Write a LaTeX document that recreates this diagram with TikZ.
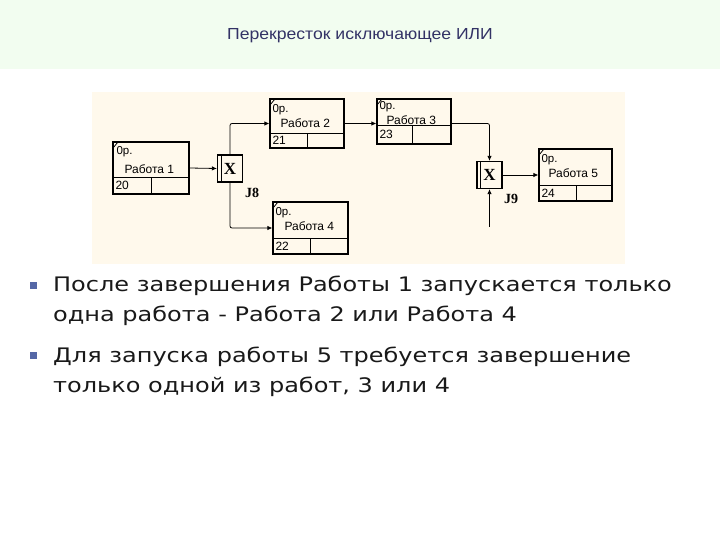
\documentclass[tikz,border=0pt]{standalone}
\usepackage{fontspec}
\setmainfont{Liberation Sans}
\newfontfamily\titlefont[FakeStretch=1.1]{Liberation Sans}
\newfontfamily\bodyfont[FakeStretch=1.2]{DejaVu Sans}
\newfontfamily\serifbold{Liberation Serif}
\usepackage{xcolor}
\definecolor{slide-band}{HTML}{F2FDF0}
\definecolor{slide-title}{HTML}{333366}
\definecolor{slide-bullet}{HTML}{5567A6}
\definecolor{diag-bg}{HTML}{FFF9EC}
\usetikzlibrary{arrows.meta}

\begin{document}
\begin{tikzpicture}[
  x=1pt, y=-1pt,
  every node/.style={inner sep=0pt},
  work/.style={rectangle, draw=black, line width=1.3pt,
    path picture={\draw[line width=0.8pt] ([yshift=-6pt]path picture bounding box.north west) -- ++(5pt,6pt);}},
  cell/.style={line width=1.1pt},
  opnum/.style={font=\fontsize{11.5}{12}\selectfont, anchor=base west},
  wname/.style={font=\fontsize{12}{12}\selectfont, anchor=base west},
  wnum/.style={font=\fontsize{12}{12}\selectfont, anchor=base west},
  junc/.style={rectangle, draw=black, line width=1.2pt, minimum width=25pt, minimum height=27pt,
    font=\serifbold\bfseries\fontsize{17}{17}\selectfont,
    path picture={\draw[line width=0.8pt] ([xshift=3.5pt]path picture bounding box.north west) -- ([xshift=3.5pt]path picture bounding box.south west);}},
  jlabel/.style={font=\serifbold\bfseries\fontsize{14}{14}\selectfont},
  link/.style={-{Latex[length=5pt,width=4.5pt]}, line width=0.8pt, rounded corners=2pt},
  bullet/.style={rectangle, fill=slide-bullet, minimum size=7pt},
  bodytext/.style={font=\bodyfont\fontsize{20}{30}\selectfont, align=left, anchor=base west, text=black!90}
]
  \useasboundingbox (0,0) rectangle (720,540);
  \fill[slide-band] (0,0) rectangle (720,69);
  \fill[diag-bg] (92,92) rectangle (625,264);

  \node[font=\titlefont\fontsize{16}{16}\selectfont, text=slide-title] (title) at (360,36) {Перекресток исключающее ИЛИ};

  % works
  \node[work, minimum width=76pt, minimum height=52pt] (w1) at (151,168) {};
  \draw[cell] ([yshift=17pt]w1.south west) -- ([yshift=17pt]w1.south east);
  \draw[cell] ([xshift=39pt]w1.south west) -- ++(0pt,17pt);
  \node[opnum] (w1op) at ([xshift=4pt,yshift=-13pt]w1.north west) {0р.};
  \node[wname] (w1name) at ([xshift=12pt,yshift=21pt]w1.south west) {Работа 1};
  \node[wnum] (w1num) at ([xshift=3pt,yshift=5pt]w1.south west) {20};

  \node[work, minimum width=74pt, minimum height=49pt] (w2) at (307,123.5) {};
  \draw[cell] ([yshift=15pt]w2.south west) -- ([yshift=15pt]w2.south east);
  \draw[cell] ([xshift=38pt]w2.south west) -- ++(0pt,15pt);
  \node[opnum] (w2op) at ([xshift=3pt,yshift=-14pt]w2.north west) {0р.};
  \node[wname] (w2name) at ([xshift=11pt,yshift=21pt]w2.south west) {Работа 2};
  \node[wnum] (w2num) at ([xshift=3pt,yshift=4pt]w2.south west) {21};

  \node[work, minimum width=74pt, minimum height=45pt] (w3) at (414,121.5) {};
  \draw[cell] ([yshift=19pt]w3.south west) -- ([yshift=19pt]w3.south east);
  \draw[cell] ([xshift=36pt]w3.south west) -- ++(0pt,19pt);
  \node[opnum] (w3op) at ([xshift=3pt,yshift=-11pt]w3.north west) {0р.};
  \node[wname] (w3name) at ([xshift=10pt,yshift=20pt]w3.south west) {Работа 3};
  \node[wnum] (w3num) at ([xshift=3pt,yshift=6pt]w3.south west) {23};

  \node[work, minimum width=75pt, minimum height=52pt] (w4) at (310.5,228) {};
  \draw[cell] ([yshift=16pt]w4.south west) -- ([yshift=16pt]w4.south east);
  \draw[cell] ([xshift=38pt]w4.south west) -- ++(0pt,16pt);
  \node[opnum] (w4op) at ([xshift=3pt,yshift=-14pt]w4.north west) {0р.};
  \node[wname] (w4name) at ([xshift=12pt,yshift=24pt]w4.south west) {Работа 4};
  \node[wnum] (w4num) at ([xshift=3pt,yshift=4pt]w4.south west) {22};

  \node[work, minimum width=73pt, minimum height=52pt] (w5) at (575.5,175) {};
  \draw[cell] ([yshift=16pt]w5.south west) -- ([yshift=16pt]w5.south east);
  \draw[cell] ([xshift=38pt]w5.south west) -- ++(0pt,16pt);
  \node[opnum] (w5op) at ([xshift=3pt,yshift=-14pt]w5.north west) {0р.};
  \node[wname] (w5name) at ([xshift=10pt,yshift=24pt]w5.south west) {Работа 5};
  \node[wnum] (w5num) at ([xshift=3pt,yshift=4pt]w5.south west) {24};

  % junctions
  \node[junc] (j8) at (230,168.5) {X};
  \node[jlabel] (j8label) at (252,193) {J8};
  \node[junc] (j9) at (489.5,175) {X};
  \node[jlabel] (j9label) at (511,199) {J9};
  \coordinate (j9in) at (489.5,227);

  \draw[link] (w1.east) -- (j8.west);
  \draw[link] (j8.north) |- (w2.west);
  \draw[link] (j8.south) |- (w4.west);
  \draw[link] (w2.east) -- (w2.east -| w3.west);
  \draw[link] (w3.east |- w2.east) -| (j9.north);
  \draw[link] (j9in) -- (j9.south);
  \draw[link] (j9.east) -- (w5.west);

  % bullets
  \node[bullet] (b1) at (33.5,285.5) {};
  \node[bodytext] (t1) at (53,321) {После завершения Работы 1 запускается только\\одна работа - Работа 2 или Работа 4};
  \node[bullet] (b2) at (33.5,355.5) {};
  \node[bodytext] (t2) at (53,392) {Для запуска работы 5 требуется завершение\\только одной из работ, 3 или 4};
\end{tikzpicture}
\end{document}
